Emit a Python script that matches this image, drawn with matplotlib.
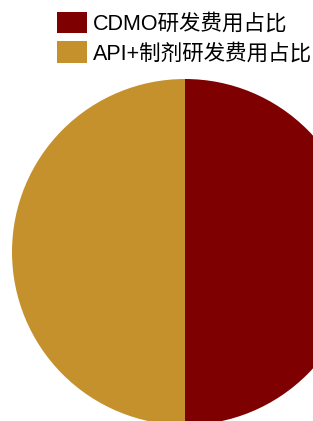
import matplotlib
matplotlib.use("Agg")
import matplotlib.pyplot as plt

plt.rcParams['font.family'] = ['Liberation Sans', 'Noto Sans CJK SC', 'DejaVu Sans']

labels = ['CDMO研发费用占比', 'API+制剂研发费用占比']
shares = [50, 50]
colors = ['#7F0000', '#C4912C']

W, H = 313, 421
fig = plt.figure(figsize=(W / 100, H / 100), dpi=100)
ax = fig.add_axes([0, 0, 1, 1])

# pie center at (185, 252) px, radius 173 px
cx, cy, r = 185, 252, 173
wedges, _ = ax.pie(shares, colors=colors, startangle=90, counterclock=False,
                   radius=1, center=(0, 0), frame=True)
ax.set_xlim(-cx / r, (W - cx) / r)
ax.set_ylim((cy - H) / r, cy / r)
ax.set_aspect('auto')
ax.axis('off')

fig.legend(wedges, labels, loc='upper left',
           bbox_to_anchor=(57 / W, 1 - 12 / H), frameon=False,
           fontsize=15.5, borderpad=0, borderaxespad=0,
           handlelength=1.4, handleheight=1.15, handletextpad=0.28,
           labelspacing=0.3)

fig.savefig('out.png', dpi=100)
